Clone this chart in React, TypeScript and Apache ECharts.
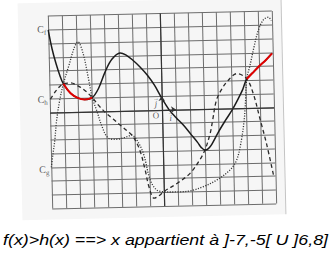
import React, { useEffect, useRef } from "react";
import * as echarts from "echarts";

// axis ranges of the squared paper (1 unit per square)
const X_MIN = -8;
const X_MAX = 8;
const Y_MIN = -7;
const Y_MAX = 7;
const STEP = 1;

// C_f : solid curve
const fPoints: [number, number][] = [
  [-8, 6.0], [-7.75, 4.6], [-7.5, 3.55], [-7.25, 2.7], [-7, 2.05], [-6.5, 1.35],
  [-6, 1.0], [-5.5, 0.87], [-4.96, 1.0], [-4.5, 1.65], [-4, 2.85], [-3.5, 3.75],
  [-2.9, 4.2], [-2.5, 4.05], [-2, 3.65], [-1.5, 3.15], [-1, 2.55], [-0.5, 1.8],
  [0, 0.85], [0.5, 0.0], [1, -0.6], [1.5, -1.15], [2, -1.8], [2.5, -2.45],
  [2.75, -2.82], [3, -3.0], [3.25, -2.9], [3.5, -2.6], [4, -1.7], [4.5, -0.9],
  [5, -0.15], [5.5, 0.75], [5.8, 1.35], [6.1, 2.1], [6.5, 2.5], [7, 3.0],
  [7.5, 3.45], [7.95, 3.92],
];

// C_h : dashed curve
const hPoints: [number, number][] = [
  [-7.95, 0.95], [-7.5, 1.6], [-7, 2.05], [-6.5, 2.1], [-6, 1.9], [-5.5, 1.55],
  [-4.96, 1.0], [-4.5, 0.4], [-4, -0.15], [-3.5, -0.6], [-3, -1.05], [-2.5, -1.5],
  [-2.1, -1.92], [-1.65, -2.9], [-1.3, -4.35], [-1.05, -5.6], [-0.7, -6.42],
  [-0.35, -6.25], [0, -5.95], [1, -5.35], [1.9, -4.67], [2.6, -3.73], [3, -3.0],
  [3.4, -1.8], [3.6, -0.85], [3.9, 0.6], [4.3, 1.4], [4.7, 1.95], [5.4, 2.5],
  [6.1, 2.1], [6.55, 1.0], [7, -0.9], [7.4, -2.6], [7.85, -4.9],
];

// C_g : dotted curve
const gPoints: [number, number][] = [
  [-8, -4.0], [-7.85, -3.0], [-7.7, -2.0], [-7.55, -0.65], [-7.3, 0.8], [-7, 2.05],
  [-6.6, 3.3], [-6.15, 4.7], [-5.9, 5.08], [-5.55, 4.25], [-5.22, 2.5], [-4.96, 1.0],
  [-4.65, 0.0], [-4.3, -1.15], [-3.9, -1.95], [-3.3, -2.08], [-2.7, -1.95],
  [-2.2, -1.8], [-1.85, -2.15], [-1.4, -3.15], [-0.95, -5.1], [-0.5, -5.83],
  [0, -5.96], [1, -6.0], [1.9, -5.94], [2.8, -5.67], [3.8, -5.2], [4.75, -4.5],
  [5.25, -3.78], [5.6, -2.45], [5.85, -0.9], [5.98, 0.5], [6.1, 2.1], [6.36, 3.1],
  [6.62, 4.2], [7.0, 5.6], [7.38, 6.36], [7.74, 6.55], [7.95, 6.3],
];

// intervals highlighted in red on C_f
const redRanges: [number, number][] = [[-7, -4.96], [6.1, 8]];

const curveLabels = [
  { sub: "f", at: [-8, 6.05] },
  { sub: "h", at: [-8, 0.95] },
  { sub: "g", at: [-8, -4.15] },
];

const originLabels = [
  { text: "O", at: [-0.45, -0.4], size: 9, italic: false },
  { text: "j", at: [-0.42, 0.45], size: 9, italic: true },
  { text: "→", at: [-0.42, 0.85], size: 6, italic: false },
  { text: "i", at: [0.6, -0.62], size: 9, italic: true },
  { text: "→", at: [0.6, -0.25], size: 6, italic: false },
];

const answer = "f(x)>h(x) ==> x appartient à ]-7,-5[ U ]6,8]";

const SERIF = "'Liberation Serif', 'DejaVu Serif', serif";
const INK = "#333333";

export default function App() {
  const chartRef = useRef<HTMLDivElement>(null);
  const textRef = useRef<HTMLDivElement>(null);

  useEffect(() => {
    const chart = echarts.init(chartRef.current!, null, { renderer: "svg" });
    const txt = echarts.init(textRef.current!, null, { renderer: "svg" });

    const axisCommon = {
      type: "value",
      interval: STEP,
      axisLine: { show: false },
      axisTick: { show: false },
      axisLabel: { show: false },
      splitLine: { show: true, lineStyle: { color: "#6c6c6c", width: 1 } },
    };

    const redSeries = redRanges.map(([a, b]) => ({
      type: "line",
      data: fPoints.filter((p) => p[0] >= a && p[0] <= b),
      smooth: 0.35,
      symbol: "none",
      silent: true,
      lineStyle: { color: "#e00000", width: 2 },
      z: 6,
    }));

    const plainText = { textBorderWidth: 0, textShadowBlur: 0, textBorderColor: "transparent" };

    chart.setOption({
      animation: false,
      color: [INK],
      grid: { left: 50, top: 13.5, width: 224, height: 192.5, show: false },
      xAxis: { ...axisCommon, min: X_MIN, max: X_MAX },
      yAxis: { ...axisCommon, min: Y_MIN, max: Y_MAX },
      graphic: {
        elements: [
          {
            type: "rect",
            z: -100,
            silent: true,
            shape: { x: 20, y: -12, width: 263, height: 229 },
            style: { fill: "#f6f6f6" },
          },
          {
            type: "line",
            z: -99,
            silent: true,
            shape: { x1: 283.5, y1: -12, x2: 283.5, y2: 217 },
            style: { stroke: "#c4c4c4", lineWidth: 1 },
          },
        ],
      },
      series: [
        {
          type: "line",
          data: gPoints,
          smooth: 0.35,
          symbol: "none",
          silent: true,
          lineStyle: { color: "#333", width: 1.3, type: [1.1, 1.5] },
          z: 3,
        },
        {
          type: "line",
          data: hPoints,
          smooth: 0.35,
          symbol: "none",
          silent: true,
          lineStyle: { color: "#2a2a2a", width: 1.3, type: [4, 3] },
          z: 3,
        },
        {
          type: "line",
          data: fPoints,
          smooth: 0.35,
          symbol: "none",
          silent: true,
          lineStyle: { color: "#1c1c1c", width: 1.5 },
          z: 4,
        },
        ...redSeries,
        {
          type: "scatter",
          symbolSize: 0,
          clip: false,
          silent: true,
          itemStyle: { color: INK },
          data: curveLabels.map((c) => ({
            value: c.at,
            label: { formatter: `{c|C}{s|${c.sub}}`, color: INK },
          })),
          label: {
            show: true,
            position: "left",
            distance: 2,
            color: INK,
            ...plainText,
            rich: {
              c: { fontFamily: SERIF, fontSize: 10, color: INK, lineHeight: 14, verticalAlign: "middle", ...plainText },
              s: { fontFamily: SERIF, fontSize: 7, color: INK, lineHeight: 14, verticalAlign: "bottom", ...plainText },
            },
          },
          markLine: {
            silent: true,
            symbol: ["none", "none"],
            label: { show: false },
            lineStyle: { color: "#333", width: 1.2, type: "solid" },
            data: [
              [{ coord: [X_MIN, 0] }, { coord: [X_MAX, 0] }],
              [{ coord: [0, Y_MIN] }, { coord: [0, Y_MAX] }],
            ],
          },
          z: 7,
        },
        {
          type: "scatter",
          symbolSize: 0,
          clip: false,
          silent: true,
          itemStyle: { color: INK },
          data: originLabels.map((o) => ({
            value: o.at,
            label: {
              formatter: o.text,
              fontSize: o.size,
              fontStyle: o.italic ? "italic" : "normal",
            },
          })),
          label: {
            show: true,
            position: "inside",
            fontFamily: SERIF,
            color: INK,
            ...plainText,
          },
          markLine: {
            silent: true,
            symbol: ["none", "arrow"],
            symbolSize: 5,
            label: { show: false },
            lineStyle: { color: "#333", width: 1.2, type: "solid" },
            data: [
              [{ coord: [0, 0] }, { coord: [1, 0] }],
              [{ coord: [0, 0] }, { coord: [0, 1] }],
            ],
          },
          z: 7,
        },
      ],
    });

    txt.setOption({
      animation: false,
      graphic: {
        elements: [
          {
            type: "text",
            x: 3,
            y: 25,
            scaleX: 1.19,
            silent: true,
            style: {
              text: answer,
              font: 'italic 15px "Liberation Sans", Arial, sans-serif',
              fill: "#000",
              align: "left",
              verticalAlign: "middle",
            },
          },
        ],
      },
    });

    return () => {
      chart.dispose();
      txt.dispose();
    };
  }, []);

  return (
    <div
      style={{
        position: "absolute",
        left: 0,
        top: 0,
        width: 335,
        height: 254,
        background: "#fff",
        overflow: "hidden",
      }}
    >
      <div
        ref={chartRef}
        style={{
          position: "absolute",
          left: 0,
          top: 0,
          width: 335,
          height: 254,
          transform: "rotate(-1.3deg)",
          transformOrigin: "162px 109.75px",
        }}
      />
      <div
        ref={textRef}
        style={{ position: "absolute", left: 0, top: 215, width: 335, height: 39 }}
      />
    </div>
  );
}
